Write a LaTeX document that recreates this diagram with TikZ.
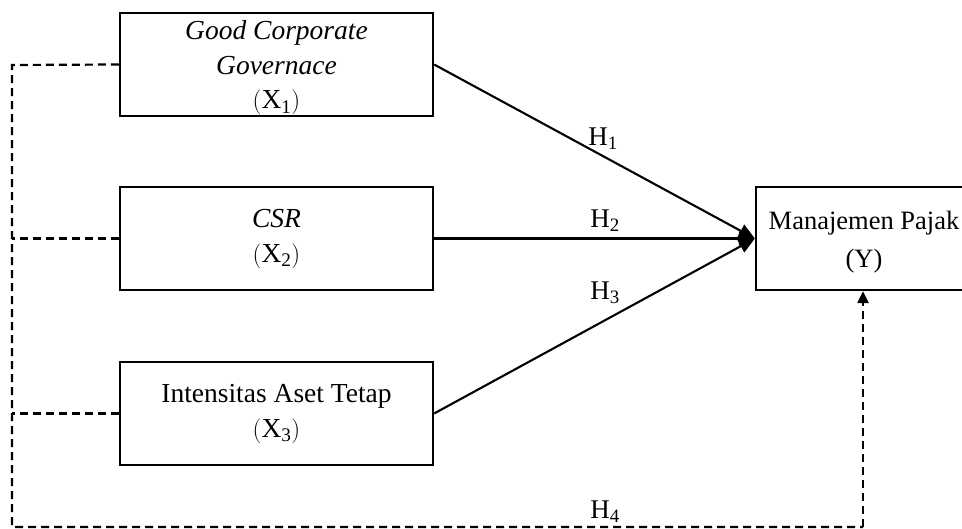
\documentclass[tikz,border=0pt]{standalone}
\usepackage{fontspec}
\setmainfont{Liberation Serif}
\usetikzlibrary{arrows.meta}
\newcommand{\subX}[1]{$(\mathrm{X}_{\mathrm{#1}})$}
\begin{document}
\begin{tikzpicture}[x=1pt,y=-1pt,
  box/.style={draw,line width=2.3pt,minimum width=313pt,minimum height=103pt,inner sep=0pt,align=center,
    font=\fontsize{27.5}{35}\selectfont},
  boxtext/.style={inner sep=0pt,align=center,font=\fontsize{27.5}{34.5}\selectfont},
  solidarrow/.style={line width=2.1pt,-{Triangle[length=16pt,width=14pt]}},
  dashline/.style={line width=2.2pt,dash pattern=on 8pt off 5pt},
  hlabel/.style={font=\fontsize{27}{30}\selectfont,inner sep=0pt}]
\useasboundingbox (0,0) rectangle (962,529);
\clip (0,0) rectangle (962,529);
\node[box] (X1) at (276.5,64.5) {};
\node[boxtext] (X1t) at (276.5,68) {\textit{Good Corporate}\\\textit{Governace}\\\subX{1}};
\node[box] (X2) at (276.5,238.5) {\textit{CSR}\\\subX{2}};
\node[box] (X3) at (276.5,413.5) {Intensitas Aset Tetap\\\subX{3}};
\node[box,minimum width=220pt] (Y) at (866,238.5) {};
\node[boxtext,font=\fontsize{26.5}{38}\selectfont] (Yt) at (864,242) {Manajemen Pajak\\(Y)};
\coordinate (tl) at (12,65);
\coordinate (bl) at (12,527);
\coordinate (br) at (863,527);
\draw[solidarrow] (X1.east) -- (Y.west);
\draw[solidarrow] (X2.east) -- (Y.west);
\draw[solidarrow] (X3.east) -- (Y.west);
\draw[dashline] (X1.west) -- (tl) -- (bl) -- (br);
\draw[dashline,-{Triangle[length=12pt,width=11pt]}] (br) -- (br |- Y.south);
\draw[dashline] (X2.west) -- (X2.west -| tl);
\draw[dashline] (X3.west) -- (X3.west -| tl);
\node[hlabel] (h1) at (603,139) {H$_{\mathrm{1}}$};
\node[hlabel] (h2) at (605,221) {H$_{\mathrm{2}}$};
\node[hlabel] (h3) at (605,293) {H$_{\mathrm{3}}$};
\node[hlabel] (h4) at (605,512) {H$_{\mathrm{4}}$};
\end{tikzpicture}
\end{document}
